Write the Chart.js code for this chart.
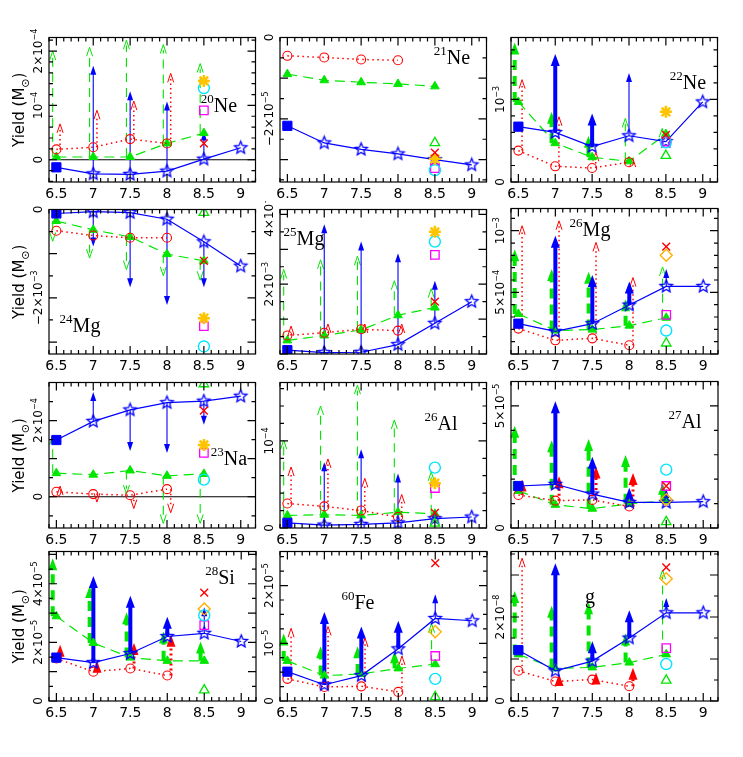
<!DOCTYPE html>
<html>
<head>
<meta charset="utf-8">
<script src="https://cdn.jsdelivr.net/npm/chart.js@4.4.0/dist/chart.umd.min.js"></script>
<style>
body { margin: 0; background: #fff; }
#wrap { position: relative; width: 743px; height: 757px; overflow: hidden; background: #fff; }
#wrap canvas { position: absolute; }
</style>
</head>
<body>
<div id="wrap"></div>
<script>
// ---- shared axis data ----
const massGrid = [6.5, 7, 7.5, 8, 8.5, 9];
const redGrid = [6.5, 7, 7.5, 8];
const greenGrid = [6.5, 7, 7.5, 8, 8.5];
const xTickVals = [6.5, 7, 7.5, 8, 8.5, 9];
const xTickLabels = ['6.5', '7', '7.5', '8', '8.5', '9'];
const extraMass = 8.5;
const extraKinds = ['cross', 'sun', 'ring', 'square', 'tri', 'diamond'];
const none6 = [null, null, null, null, null, null];

// ---- 20Ne ----
const ne20Blue = [-0.14e-4, -0.26e-4, -0.27e-4, -0.21e-4, 0.01e-4, 0.22e-4];
const ne20BlueTo = [null, 1.73e-4, 1.26e-4, 1.07e-4, 0.52e-4, null];
const ne20Red = [0.19e-4, 0.23e-4, 0.38e-4, 0.30e-4];
const ne20RedTo = [0.66e-4, 0.91e-4, 1.08e-4, 1.59e-4];
const ne20Green = [0.05e-4, 0.05e-4, 0.05e-4, 0.30e-4, 0.49e-4];
const ne20GreenTo = [2.0e-4, 2.07e-4, 2.2e-4, 2.12e-4, 1.77e-4];
const ne20Extra = [0.30e-4, 1.45e-4, 1.32e-4, 0.91e-4, null, null];
const ne20Ticks = [0, 1e-4, 2e-4];
const ne20TickLabels = ['0', '10^−4', '2×10^−4'];

// ---- 21Ne ----
const ne21Blue = [-2.17e-5, -2.59e-5, -2.75e-5, -2.86e-5, -3.0e-5, -3.13e-5];
const ne21Red = [-0.45e-5, -0.49e-5, -0.54e-5, -0.56e-5];
const ne21Green = [-0.9e-5, -1.05e-5, -1.1e-5, -1.14e-5, -1.2e-5];
const ne21Extra = [-2.83e-5, -2.98e-5, -3.26e-5, -3.21e-5, -2.59e-5, null];
const ne21Ticks = [0, -2e-5];
const ne21TickLabels = ['0', '−2×10^−5'];

// ---- 22Ne ----
const ne22Blue = [0.67e-3, 0.60e-3, 0.43e-3, 0.56e-3, 0.49e-3, 0.97e-3];
const ne22BlueTo = [null, 1.55e-3, 0.83e-3, 1.32e-3, null, null];
const ne22Red = [0.38e-3, 0.19e-3, 0.17e-3, 0.24e-3];
const ne22RedTo = [1.24e-3, 0.79e-3, 0.36e-3, 0.29e-3];
const ne22Green = [0.97e-3, 0.47e-3, 0.30e-3, 0.25e-3, 0.58e-3];
const ne22GreenTo = [1.69e-3, 0.85e-3, 0.56e-3, 0.77e-3, 0.65e-3];
const ne22Extra = [0.57e-3, 0.85e-3, 0.48e-3, 0.49e-3, 0.32e-3, null];
const ne22Ticks = [0, 1e-3];
const ne22TickLabels = ['0', '10^−3'];

// ---- 24Mg ----
const mg24Blue = [-0.09e-3, -0.05e-3, -0.07e-3, -0.22e-3, -0.73e-3, -1.28e-3];
const mg24BlueTo = [null, -0.84e-3, -1.76e-3, -2.16e-3, -1.76e-3, null];
const mg24Red = [-0.48e-3, -0.59e-3, -0.64e-3, -0.64e-3];
const mg24Green = [-0.26e-3, -0.46e-3, -0.62e-3, -1.01e-3, -1.16e-3];
const mg24GreenTo = [-0.72e-3, -1.10e-3, -1.36e-3, -1.50e-3, -1.60e-3];
const mg24Extra = [-1.16e-3, -2.46e-3, -3.10e-3, -2.64e-3, -0.07e-3, null];
const mg24Ticks = [0, -2e-3];
const mg24TickLabels = ['0', '−2×10^−3'];

// ---- 25Mg ----
const mg25Blue = [0.11e-3, 0.04e-3, 0.05e-3, 0.27e-3, 0.88e-3, 1.50e-3];
const mg25BlueTo = [null, 3.72e-3, 3.22e-3, 2.89e-3, 2.10e-3, null];
const mg25Red = [0.53e-3, 0.61e-3, 0.71e-3, 0.67e-3];
const mg25RedTo = [0.80e-3, 0.86e-3, 0.86e-3, 0.86e-3];
const mg25Green = [0.39e-3, 0.53e-3, 0.69e-3, 1.11e-3, 1.33e-3];
const mg25GreenTo = [2.42e-3, 2.70e-3, 2.80e-3, 2.10e-3, 1.87e-3];
const mg25Extra = [1.50e-3, 3.50e-3, 3.22e-3, 2.84e-3, null, null];
const mg25Ticks = [2e-3, 4e-3];
const mg25TickLabels = ['2×10^−3', '4×10^−3'];

// ---- 26Mg ----
const mg26Blue = [2.46e-4, 1.83e-4, 2.46e-4, 3.97e-4, 5.48e-4, 5.48e-4];
const mg26BlueTo = [null, 9.6e-4, 6.4e-4, 5.87e-4, 6.9e-4, null];
const mg26Red = [2.06e-4, 1.11e-4, 1.27e-4, 0.71e-4];
const mg26RedTo = [10.4e-4, 10.8e-4, 9.05e-4, 6.2e-4];
const mg26Green = [3.25e-4, 1.9e-4, 1.98e-4, 2.3e-4, 2.94e-4];
const mg26GreenTo = [8.5e-4, 6.9e-4, 6.67e-4, 4.44e-4, 7.06e-4];
const mg26Extra = [8.7e-4, null, 1.9e-4, 3.17e-4, 0.87e-4, 8.0e-4];
const mg26Ticks = [5e-4, 1e-3];
const mg26TickLabels = ['5×10^−4', '10^−3'];

// ---- 23Na ----
const na23Blue = [1.49e-4, 1.98e-4, 2.28e-4, 2.47e-4, 2.51e-4, 2.64e-4];
const na23BlueTo = [null, 2.75e-4, 1.20e-4, 1.15e-4, 1.89e-4, null];
const na23Red = [0.13e-4, 0.07e-4, 0.04e-4, 0.20e-4];
const na23RedTo = [0.28e-4, -0.14e-4, -0.31e-4, -0.42e-4];
const na23Green = [0.62e-4, 0.58e-4, 0.69e-4, 0.55e-4, 0.60e-4];
const na23GreenTo = [1.60e-4, null, 0.07e-4, -0.70e-4, -0.70e-4];
const na23Extra = [2.26e-4, 1.36e-4, 0.45e-4, 1.15e-4, 2.96e-4, null];
const na23Ticks = [0, 2e-4];
const na23TickLabels = ['0', '2×10^−4'];

// ---- 26Al ----
const al26Blue = [0.59e-5, 0.33e-5, 0.41e-5, 0.59e-5, 1.07e-5, 1.26e-5];
const al26BlueTo = [null, 7.56e-5, 9.04e-5, 6.26e-5, 2.19e-5, null];
const al26Red = [2.81e-5, 2.48e-5, 2.0e-5, 1.26e-5];
const al26RedTo = [7.0e-5, 7.93e-5, 5.7e-5, 3.85e-5];
const al26Green = [1.44e-5, 1.52e-5, 1.44e-5, 1.81e-5, 1.63e-5];
const al26GreenTo = [10.1e-5, 14.0e-5, 16.4e-5, 12.4e-5, 6.44e-5];
const al26Extra = [1.74e-5, 5.15e-5, 6.93e-5, 4.59e-5, 0.52e-5, null];
const al26Ticks = [0, 1e-4];
const al26TickLabels = ['0', '10^−4'];

// ---- 27Al ----
const al27Blue = [1.72e-5, 1.79e-5, 1.39e-5, 1.05e-5, 1.05e-5, 1.08e-5];
const al27BlueTo = [null, 5.19e-5, 2.92e-5, 1.65e-5, 1.6e-5, null];
const al27Red = [1.35e-5, 1.12e-5, 1.15e-5, 0.88e-5];
const al27RedTo = [1.99e-5, 2.12e-5, 2.52e-5, 2.25e-5];
const al27Green = [1.52e-5, 0.95e-5, 0.79e-5, 0.99e-5, 1.12e-5];
const al27GreenTo = [4.19e-5, 3.59e-5, 3.65e-5, 2.99e-5, 1.85e-5];
const al27Extra = [1.72e-5, null, 2.39e-5, 1.72e-5, 0.25e-5, 1.16e-5];
const al27Ticks = [0, 5e-5];
const al27TickLabels = ['0', '5×10^−5'];

// ---- 28Si ----
const si28Blue = [1.48e-5, 1.31e-5, 1.62e-5, 2.20e-5, 2.31e-5, 2.03e-5];
const si28BlueTo = [null, 4.26e-5, 3.59e-5, 2.87e-5, 3.2e-5, null];
const si28Red = [1.45e-5, 1.0e-5, 1.11e-5, 0.87e-5];
const si28RedTo = [1.92e-5, 1.37e-5, 1.98e-5, 2.26e-5];
const si28Green = [2.89e-5, 1.98e-5, 1.48e-5, 1.37e-5, 1.37e-5];
const si28GreenTo = [4.87e-5, 3.92e-5, 3.03e-5, 2.37e-5, 2.03e-5];
const si28Extra = [3.7e-5, null, 2.92e-5, 2.59e-5, 0.37e-5, 3.14e-5];
const si28Ticks = [0, 2e-5, 4e-5];
const si28TickLabels = ['0', '2×10^−5', '4×10^−5'];

// ---- 60Fe ----
const fe60Blue = [5.08e-6, 2.82e-6, 4.4e-6, 9.04e-6, 14.3e-6, 13.9e-6];
const fe60BlueTo = [null, 15.4e-6, 12.9e-6, 13.9e-6, 18.5e-6, null];
const fe60Red = [3.84e-6, 2.43e-6, 2.54e-6, 1.58e-6];
const fe60RedTo = [12.6e-6, 12.9e-6, 10.9e-6, 7.8e-6];
const fe60Green = [6.95e-6, 4.4e-6, 4.69e-6, 5.65e-6, 6.38e-6];
const fe60GreenTo = [11.7e-6, 9.5e-6, 9.5e-6, 8.6e-6, 13.4e-6];
const fe60Extra = [23.9e-6, null, 3.84e-6, 7.8e-6, 0.73e-6, 12.0e-6];
const fe60Ticks = [0, 1e-5, 2e-5];
const fe60TickLabels = ['0', '10^−5', '2×10^−5'];

// ---- g ----
const gBlue = [12.1e-9, 7.2e-9, 9.5e-9, 15.0e-9, 21.0e-9, 21.0e-9];
const gBlueTo = [null, 32.8e-9, 14.2e-9, 21.6e-9, 24.5e-9, null];
const gRed = [7.2e-9, 4.65e-9, 5.1e-9, 3.5e-9];
const gRedTo = [34e-9, 6.4e-9, 6.8e-9, 7.9e-9];
const gGreen = [11.1e-9, 7.75e-9, 8.0e-9, 9.15e-9, 11.1e-9];
const gGreenTo = [26.2e-9, 22.7e-9, 23.5e-9, 16.1e-9, 31.2e-9];
const gExtra = [31.8e-9, null, 8.8e-9, 12.6e-9, 4.9e-9, 29.1e-9];
const gTicks = [0, 2e-8];
const gTickLabels = ['0', '2×10^−8'];

// ---- layout / styles ----
const colLeft = [49, 280, 511];
const frameW = 207;
const rowTop = [33, 205, 378, 548];
const rowBottom = [182, 354, 528, 701];

const BLUE = '#0000ff', RED = '#ff0000', GREEN = '#00e600';

const panels = [
  { name: '^20Ne', col: 0, row: 0, min: -0.41e-4, max: 2.25e-4, minor: 2e-5, major: 1e-4, ticks: ne20Ticks, tickLabels: ne20TickLabels, zero: true, lab: [170, 67],
    blue: ne20Blue, blueTo: ne20BlueTo, red: ne20Red, redTo: ne20RedTo, green: ne20Green, greenTo: ne20GreenTo, extra: ne20Extra, thickB: [], thickR: [], thickG: [] },
  { name: '^21Ne', col: 1, row: 0, min: -3.55e-5, max: 0, minor: 0.5e-5, major: 1e-5, ticks: ne21Ticks, tickLabels: ne21TickLabels, lab: [172, 19],
    blue: ne21Blue, blueTo: none6, red: ne21Red, redTo: none6, green: ne21Green, greenTo: none6, extra: ne21Extra, thickB: [], thickR: [], thickG: [] },
  { name: '^22Ne', col: 2, row: 0, min: 0, max: 1.75e-3, minor: 2e-4, major: 1e-3, ticks: ne22Ticks, tickLabels: ne22TickLabels, lab: [177, 44],
    blue: ne22Blue, blueTo: ne22BlueTo, red: ne22Red, redTo: ne22RedTo, green: ne22Green, greenTo: ne22GreenTo, extra: ne22Extra, thickB: [1, 2], thickR: [], thickG: [0, 1, 2] },
  { name: '^24Mg', col: 0, row: 1, min: -3.27e-3, max: 0, minor: 0.5e-3, major: 1e-3, ticks: mg24Ticks, tickLabels: mg24TickLabels, lab: [31, 115],
    blue: mg24Blue, blueTo: mg24BlueTo, red: mg24Red, redTo: none6, green: mg24Green, greenTo: mg24GreenTo, extra: mg24Extra, thickB: [], thickR: [], thickG: [] },
  { name: '^25Mg', col: 1, row: 1, min: 0, max: 4.14e-3, minor: 0.5e-3, major: 1e-3, ticks: mg25Ticks, tickLabels: mg25TickLabels, lab: [24, 28],
    blue: mg25Blue, blueTo: mg25BlueTo, red: mg25Red, redTo: mg25RedTo, green: mg25Green, greenTo: mg25GreenTo, extra: mg25Extra, thickB: [], thickR: [], thickG: [] },
  { name: '^26Mg', col: 2, row: 1, min: 0, max: 11.8e-4, minor: 1e-4, major: 5e-4, ticks: mg26Ticks, tickLabels: mg26TickLabels, lab: [79, 20],
    blue: mg26Blue, blueTo: mg26BlueTo, red: mg26Red, redTo: mg26RedTo, green: mg26Green, greenTo: mg26GreenTo, extra: mg26Extra, thickB: [1, 2, 3], thickR: [], thickG: [0, 1, 2, 3] },
  { name: '^23Na', col: 0, row: 2, min: -0.82e-4, max: 3.0e-4, minor: 0.5e-4, major: 1e-4, ticks: na23Ticks, tickLabels: na23TickLabels, zero: true, lab: [180, 75],
    blue: na23Blue, blueTo: na23BlueTo, red: na23Red, redTo: na23RedTo, green: na23Green, greenTo: na23GreenTo, extra: na23Extra, thickB: [], thickR: [], thickG: [] },
  { name: '^26Al', col: 1, row: 2, min: 0, max: 1.67e-4, minor: 2e-5, major: 1e-4, ticks: al26Ticks, tickLabels: al26TickLabels, lab: [161, 40],
    blue: al26Blue, blueTo: al26BlueTo, red: al26Red, redTo: al26RedTo, green: al26Green, greenTo: al26GreenTo, extra: al26Extra, thickB: [], thickR: [], thickG: [] },
  { name: '^27Al', col: 2, row: 2, min: 0, max: 6.0e-5, minor: 1e-5, major: 5e-5, ticks: al27Ticks, tickLabels: al27TickLabels, lab: [174, 39],
    blue: al27Blue, blueTo: al27BlueTo, red: al27Red, redTo: al27RedTo, green: al27Green, greenTo: al27GreenTo, extra: al27Extra, thickB: [1, 2, 3], thickR: [0, 1, 2, 3], thickG: [0, 1, 2, 3, 4] },
  { name: '^28Si', col: 0, row: 3, min: 0, max: 5.1e-5, minor: 0.5e-5, major: 1e-5, ticks: si28Ticks, tickLabels: si28TickLabels, lab: [171, 25],
    blue: si28Blue, blueTo: si28BlueTo, red: si28Red, redTo: si28RedTo, green: si28Green, greenTo: si28GreenTo, extra: si28Extra, thickB: [1, 2, 3], thickR: [0, 1, 2, 3], thickG: [0, 1, 2, 3, 4] },
  { name: '^60Fe', col: 1, row: 3, min: 0, max: 2.59e-5, minor: 2.5e-6, major: 1e-5, ticks: fe60Ticks, tickLabels: fe60TickLabels, lab: [78, 50],
    blue: fe60Blue, blueTo: fe60BlueTo, red: fe60Red, redTo: fe60RedTo, green: fe60Green, greenTo: fe60GreenTo, extra: fe60Extra, thickB: [1, 2, 3], thickR: [], thickG: [0, 1, 2, 3] },
  { name: 'g', col: 2, row: 3, min: 0, max: 3.56e-8, minor: 5e-9, major: 1e-8, ticks: gTicks, tickLabels: gTickLabels, lab: [79, 44],
    blue: gBlue, blueTo: gBlueTo, red: gRed, redTo: gRedTo, green: gGreen, greenTo: gGreenTo, extra: gExtra, thickB: [1, 2, 3], thickR: [1, 2, 3], thickG: [0, 1, 2, 3] }
];

// open 5-point star marker
function starMarker(color, r) {
  var c = document.createElement('canvas');
  c.width = c.height = Math.ceil(2 * r + 4);
  var g = c.getContext('2d');
  g.strokeStyle = color; g.lineWidth = 1.3; g.lineJoin = 'miter';
  g.beginPath();
  for (var i = 0; i < 10; i++) {
    var a = -Math.PI / 2 + i * Math.PI / 5;
    var rr = i % 2 ? r * 0.45 : r;
    g.lineTo(c.width / 2 + rr * Math.cos(a), c.height / 2 + rr * Math.sin(a));
  }
  g.closePath(); g.stroke();
  return c;
}
const blueStar = starMarker(BLUE, 6.5);

// text with ^superscript / _subscript pieces
function richParts(str, size, family) {
  var parts = [];
  var bits = str.split(/(\^[^A-Za-z ()]+|_.)/);
  bits.forEach(function (b) {
    if (!b) return;
    if (b[0] === '^') parts.push({ t: b.slice(1), f: Math.round(size * 0.66) + 'px ' + family, dy: -size * 0.42 });
    else if (b[0] === '_') parts.push({ t: b.slice(1), f: Math.round(size * 0.7) + 'px ' + family, dy: size * 0.3 });
    else parts.push({ t: b, f: size + 'px ' + family, dy: 0 });
  });
  return parts;
}
function drawRich(ctx, x, y, parts, align) {
  var w = 0;
  parts.forEach(function (p) { ctx.font = p.f; w += ctx.measureText(p.t).width; });
  var cx = align === 'center' ? x - w / 2 : x;
  ctx.textAlign = 'left';
  parts.forEach(function (p) {
    ctx.font = p.f;
    ctx.fillText(p.t, cx, y + p.dy);
    cx += ctx.measureText(p.t).width;
  });
}

// vertical limit arrows starting at a series point
function drawArrows(ctx, xs, ys, grid, from, to, dx, color, kind, thick) {
  to.forEach(function (t, i) {
    if (t == null || from[i] == null) return;
    var big = thick.indexOf(i) >= 0;
    var px = xs.getPixelForValue(grid[i] + dx);
    var p0 = ys.getPixelForValue(from[i]), p1 = ys.getPixelForValue(t);
    var dir = p1 < p0 ? -1 : 1;
    var hl = big ? 12 : 9, hw = big ? 4.5 : 3;
    ctx.strokeStyle = color; ctx.fillStyle = color;
    ctx.lineWidth = big ? (kind === 'red' ? 3 : 4) : (kind === 'red' ? 1.5 : 1.1);
    ctx.setLineDash(kind === 'blue' ? [] : kind === 'red' ? (big ? [2, 3] : [1.5, 3]) : (big ? [10, 6] : [9, 6]));
    if (Math.abs(p1 - p0) > hl) {
      ctx.beginPath(); ctx.moveTo(px, p0); ctx.lineTo(px, p1 - dir * hl * 0.6); ctx.stroke();
    }
    ctx.setLineDash([]);
    ctx.beginPath();
    if (kind === 'blue' || big) {
      ctx.moveTo(px, p1); ctx.lineTo(px - hw, p1 - dir * hl); ctx.lineTo(px + hw, p1 - dir * hl); ctx.closePath();
      ctx.fill();
    } else {
      // open V head
      ctx.lineWidth = 1;
      ctx.moveTo(px - hw, p1 - dir * hl); ctx.lineTo(px, p1); ctx.lineTo(px + hw, p1 - dir * hl);
      ctx.stroke();
    }
  });
}

var TICKFONT = '"DejaVu Sans", sans-serif';

const decor = {
  id: 'decor',
  beforeDatasetsDraw: function (chart) {
    var p = chart.options.plugins.decor.panel;
    var ctx = chart.ctx, a = chart.chartArea, xs = chart.scales.x, ys = chart.scales.y;
    ctx.save();
    if (p.zero) {
      var z = ys.getPixelForValue(0);
      ctx.strokeStyle = '#000'; ctx.lineWidth = 1.2;
      ctx.beginPath(); ctx.moveTo(a.left, z); ctx.lineTo(a.right, z); ctx.stroke();
    }
    drawArrows(ctx, xs, ys, greenGrid, p.green, p.greenTo, -0.05, GREEN, 'green', p.thickG);
    drawArrows(ctx, xs, ys, redGrid, p.red, p.redTo, 0.05, RED, 'red', p.thickR);
    drawArrows(ctx, xs, ys, massGrid, p.blue, p.blueTo, 0, BLUE, 'blue', p.thickB);
    ctx.restore();
  },
  afterDraw: function (chart) {
    var p = chart.options.plugins.decor.panel;
    var ctx = chart.ctx, a = chart.chartArea, xs = chart.scales.x, ys = chart.scales.y;
    ctx.save();
    ctx.strokeStyle = '#000'; ctx.fillStyle = '#000'; ctx.lineWidth = 1.2;
    ctx.strokeRect(a.left, a.top, a.right - a.left, a.bottom - a.top);
    ctx.beginPath();
    // x ticks, every 0.1, major every 0.5
    for (var i = Math.ceil(xs.min * 10 - 1e-6); i <= Math.floor(xs.max * 10 + 1e-6); i++) {
      var px = xs.getPixelForValue(i / 10), L = (i % 5 === 0) ? 8 : 4;
      ctx.moveTo(px, a.bottom); ctx.lineTo(px, a.bottom - L);
      ctx.moveTo(px, a.top); ctx.lineTo(px, a.top + L);
    }
    // y ticks
    for (var k = Math.ceil(ys.min / p.minor - 1e-6); k <= Math.floor(ys.max / p.minor + 1e-6); k++) {
      var v = k * p.minor, r = v / p.major;
      var py = ys.getPixelForValue(v), M = Math.abs(r - Math.round(r)) < 1e-6 ? 8 : 4;
      ctx.moveTo(a.left, py); ctx.lineTo(a.left + M, py);
      ctx.moveTo(a.right, py); ctx.lineTo(a.right - M, py);
    }
    ctx.stroke();

    // x tick labels
    ctx.textBaseline = 'middle';
    xTickVals.forEach(function (xv, j) {
      drawRich(ctx, xs.getPixelForValue(xv), a.bottom + 12, richParts(xTickLabels[j], 14, TICKFONT), 'center');
    });
    // y tick labels, rotated
    ctx.textBaseline = 'alphabetic';
    p.ticks.forEach(function (tv, j) {
      ctx.save();
      ctx.translate(a.left - 7, ys.getPixelForValue(tv));
      ctx.rotate(-Math.PI / 2);
      drawRich(ctx, 0, 0, richParts(p.tickLabels[j], 12, TICKFONT), 'center');
      ctx.restore();
    });
    // element label
    drawRich(ctx, a.left + p.lab[0], a.top + p.lab[1] + 7, richParts(p.name, 20, '"Liberation Serif", serif'), 'center');

    // axis titles
    if (p.col === 0) {
      ctx.save();
      ctx.translate(24, (a.top + a.bottom) / 2);
      ctx.rotate(-Math.PI / 2);
      drawRich(ctx, 0, 0, richParts('Yield (M_⊙)', 15, TICKFONT), 'center');
      ctx.restore();
    }
    if (p.row === 3) {
      drawRich(ctx, (a.left + a.right) / 2, 737, richParts('Initial Mass (M_⊙)', 15, TICKFONT), 'center');
    }
    ctx.restore();
  }
};

function pts(grid, vals) {
  return grid.map(function (m, i) { return { x: m, y: vals[i] }; }).filter(function (d) { return d.y != null; });
}

var extraStyle = {
  cross: { pointStyle: 'crossRot', pointRadius: 5.5, color: RED, fill: 'rgba(0,0,0,0)', bw: 1.4 },
  sun: { pointStyle: 'star', pointRadius: 6, color: '#ffc400', fill: 'rgba(0,0,0,0)', bw: 2.5 },
  ring: { pointStyle: 'circle', pointRadius: 5.5, color: '#00e5ff', fill: 'rgba(0,0,0,0)', bw: 1.4 },
  square: { pointStyle: 'rect', pointRadius: 6, color: '#ff00ff', fill: 'rgba(0,0,0,0)', bw: 1.3 },
  tri: { pointStyle: 'triangle', pointRadius: 5.5, color: GREEN, fill: 'rgba(0,0,0,0)', bw: 1.3 },
  diamond: { pointStyle: 'rectRot', pointRadius: 6, color: '#ffb000', fill: 'rgba(0,0,0,0)', bw: 1.4 }
};

var wrap = document.getElementById('wrap');
panels.forEach(function (p) {
  var frameH = rowBottom[p.row] - rowTop[p.row];
  var W = 49 + frameW + 8, H = frameH + 4 + 50;
  var cv = document.createElement('canvas');
  cv.width = W; cv.height = H;
  cv.style.left = (colLeft[p.col] - 49) + 'px';
  cv.style.top = (rowTop[p.row] - 4) + 'px';
  wrap.appendChild(cv);

  var datasets = [];
  // extras at 8.5 drawn on top
  extraKinds.forEach(function (kind, i) {
    if (p.extra[i] == null) return;
    var s = extraStyle[kind];
    datasets.push({ type: 'scatter', data: [{ x: extraMass, y: p.extra[i] }], showLine: false,
      pointStyle: s.pointStyle, pointRadius: s.pointRadius, pointBorderColor: s.color,
      pointBackgroundColor: s.fill, pointBorderWidth: s.bw });
  });
  datasets.push({ type: 'line', data: pts(massGrid, p.blue), borderColor: BLUE, borderWidth: 1.2,
    pointStyle: massGrid.map(function (m, i) { return i === 0 ? 'rect' : blueStar; }),
    pointRadius: 6.5, pointBackgroundColor: BLUE, pointBorderColor: BLUE, pointBorderWidth: 1 });
  datasets.push({ type: 'line', data: pts(redGrid, p.red), borderColor: RED, borderWidth: 1.5, borderDash: [1.5, 3.5],
    pointStyle: 'circle', pointRadius: 4.5, pointBackgroundColor: 'rgba(0,0,0,0)', pointBorderColor: RED, pointBorderWidth: 1.1 });
  datasets.push({ type: 'line', data: pts(greenGrid, p.green), borderColor: GREEN, borderWidth: 1.2, borderDash: [10, 6],
    pointStyle: 'triangle', pointRadius: 5, pointBackgroundColor: GREEN, pointBorderColor: GREEN, pointBorderWidth: 1 });

  new Chart(cv.getContext('2d'), {
    type: 'line',
    data: { datasets: datasets },
    options: {
      responsive: false,
      animation: false,
      events: [],
      layout: { padding: { left: 49, right: 8, top: 4, bottom: 50 } },
      plugins: { legend: { display: false }, tooltip: { enabled: false }, decor: { panel: p } },
      scales: {
        x: { type: 'linear', min: 6.4, max: 9.2, display: false },
        y: { type: 'linear', min: p.min, max: p.max, display: false }
      }
    },
    plugins: [decor]
  });
});
</script>
</body>
</html>
